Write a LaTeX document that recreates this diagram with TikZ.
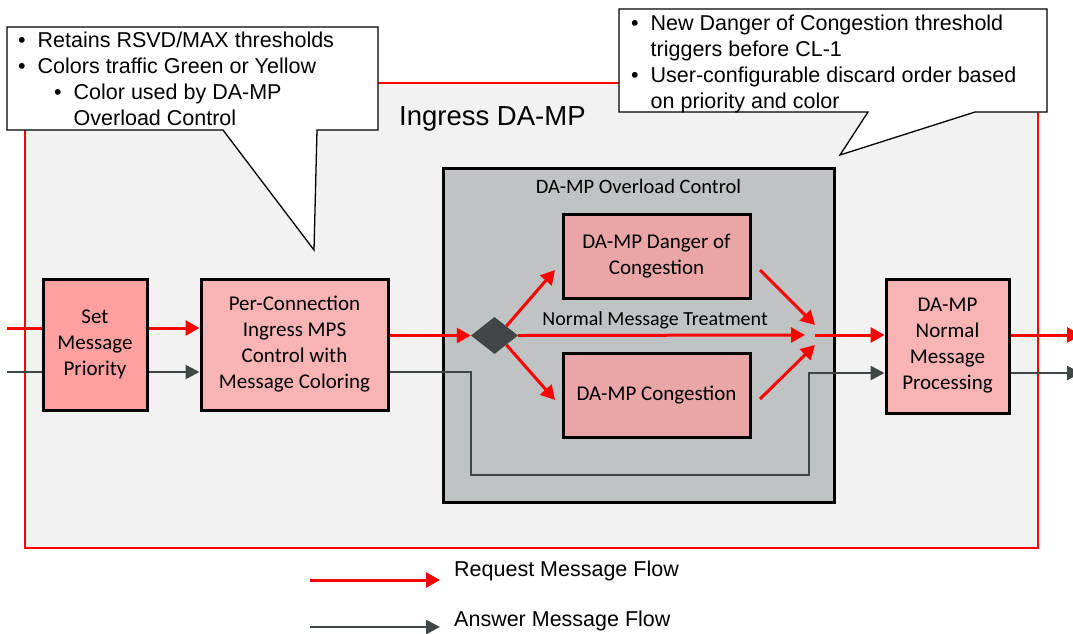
\documentclass[tikz,border=0pt]{standalone}
\usepackage{fontspec}
\setmainfont{Liberation Sans}
\newfontfamily\calfont{Carlito}
\usetikzlibrary{arrows.meta,shapes.geometric}
\definecolor{ingressbg}{RGB}{242,242,242}
\definecolor{ovlgray}{RGB}{191,195,196}
\definecolor{ansgray}{RGB}{64,69,69}
\definecolor{prioFill}{RGB}{255,160,160}
\definecolor{connFill}{RGB}{248,180,180}
\definecolor{dangerFill}{RGB}{234,166,166}
\newcommand{\blt}{\makebox[19.5pt][l]{\textbullet}}
\begin{document}
\begin{tikzpicture}[x=1pt,y=-1pt,
    box/.style={draw=black,line width=3pt,align=center,inner sep=0pt,
      font=\calfont\fontsize{21}{26}\selectfont},
    req/.style={draw=red,line width=3pt,-{Triangle[length=14pt,width=15pt]}},
    reqline/.style={draw=red,line width=3pt},
    ans/.style={draw=ansgray,line width=2.6pt,-{Triangle[length=14pt,width=14pt]}},
    ansline/.style={draw=ansgray,line width=2.6pt},
    callout/.style={draw=black,line width=1.3pt,fill=white},
    note/.style={anchor=base west,inner sep=0pt,font=\fontsize{21.5}{26}\selectfont}]
  \useasboundingbox (0,0) rectangle (1073,633);

  % ingress area
  \node[draw=red,line width=1.2pt,fill=ingressbg,minimum width=1013pt,
    minimum height=465pt] (ingress) at (531.5,315.5) {};
  \node[anchor=base west,inner sep=0pt,font=\fontsize{27.5}{32}\selectfont]
    (ingresstitle) at (399,125) {Ingress DA-MP};

  % callouts
  \draw[callout] (7,27) -- (378,27) -- (378,130) -- (317,130) -- (314,250)
    -- (223,130) -- (7,130) -- cycle;
  \node[note] (c1a) at (18,47) {\blt Retains RSVD/MAX thresholds};
  \node[note] (c1b) at (18,73) {\blt Colors traffic Green or Yellow};
  \node[note] (c1c) at (54,99) {\blt Color used by DA-MP};
  \node[note] (c1d) at (73.5,125) {Overload Control};

  \draw[callout] (619,9) -- (1047,9) -- (1047,112) -- (975,112) -- (840,155)
    -- (868,112) -- (619,112) -- cycle;
  \node[note] (c2a) at (631,30) {\blt New Danger of Congestion threshold};
  \node[note] (c2b) at (650.5,56) {triggers before CL-1};
  \node[note] (c2c) at (631,82) {\blt User-configurable discard order based};
  \node[note] (c2d) at (650.5,108) {on priority and color};

  % blocks
  \node[box,fill=prioFill,minimum width=104pt,minimum height=131pt]
    (prio) at (95,344.5) {Set\\Message\\Priority};
  \node[box,fill=connFill,minimum width=187pt,minimum height=131pt]
    (conn) at (294.5,344.5) {Per-Connection\\Ingress MPS\\Control with\\Message Coloring};
  \node[draw=black,line width=3pt,fill=ovlgray,minimum width=391pt,
    minimum height=334pt] (ovl) at (638.5,335) {};
  \node[anchor=base,inner sep=0pt,font=\calfont\fontsize{20.5}{24}\selectfont]
    (ovltitle) at (638.5,193) {DA-MP Overload Control};
  \node[box,fill=dangerFill,minimum width=187pt,minimum height=84pt]
    (danger) at (656.5,256) {DA-MP Danger of\\Congestion};
  \node[box,fill=dangerFill,minimum width=187pt,minimum height=84pt]
    (cong) at (656.5,395) {DA-MP Congestion};
  \node[diamond,fill=ansgray,minimum width=47pt,minimum height=37pt,
    inner sep=0pt] (dia) at (494.5,335.5) {};
  \node[anchor=base,inner sep=0pt,font=\calfont\fontsize{20}{24}\selectfont]
    (treat) at (655,325) {Normal Message Treatment};
  \node[box,fill=connFill,minimum width=123pt,minimum height=134pt]
    (normal) at (947.5,346) {DA-MP\\Normal\\Message\\Processing};

  % free ends
  \coordinate (inR) at (7,328);
  \coordinate (inA) at (7,372);
  \coordinate (dangerTip) at (555,270);
  \coordinate (congTip) at (555,400);
  \coordinate (treatTip) at (805,335);
  \coordinate (dangerOut) at (760,270);
  \coordinate (dangerIn) at (815,325);
  \coordinate (congOut) at (760,399);
  \coordinate (congIn) at (815,345);
  \coordinate (mergeR) at (815,335);
  \coordinate (ansDown) at (471,475);
  \coordinate (ansUp) at (809,475);
  \coordinate (outR) at (1081,335);
  \coordinate (outA) at (1081,373);

  % request flow
  \draw[reqline] (inR) -- (prio.west |- inR);
  \draw[req] (prio.east |- inR) -- (conn.west |- inR);
  \draw[req] (conn.east |- dia.west) -- (dia.west);
  \draw[req] (dia.north east) -- (dangerTip);
  \draw[req] (dia.south east) -- (congTip);
  \draw[req] (dia.east) -- (treatTip);
  \draw[req] (dangerOut) -- (dangerIn);
  \draw[req] (congOut) -- (congIn);
  \draw[req] (mergeR) -- (normal.west |- mergeR);
  \draw[req] (normal.east |- mergeR) -- (outR);

  % answer flow
  \draw[ansline] (inA) -- (prio.west |- inA);
  \draw[ans] (prio.east |- inA) -- (conn.west |- inA);
  \draw[ans] (conn.east |- inA) -- (ansDown |- inA) -- (ansDown) -- (ansUp)
    -- (ansUp |- outA) -- (normal.west |- outA);
  \draw[ans] (normal.east |- outA) -- (outA);

  % legend
  \coordinate (legRs) at (310,580);
  \coordinate (legRe) at (440,580);
  \coordinate (legAs) at (310,627);
  \coordinate (legAe) at (440,627);
  \draw[req] (legRs) -- (legRe);
  \draw[ans] (legAs) -- (legAe);
  \node[note] (legR) at (454,576) {Request Message Flow};
  \node[note] (legA) at (454,626) {Answer Message Flow};
\end{tikzpicture}
\end{document}
